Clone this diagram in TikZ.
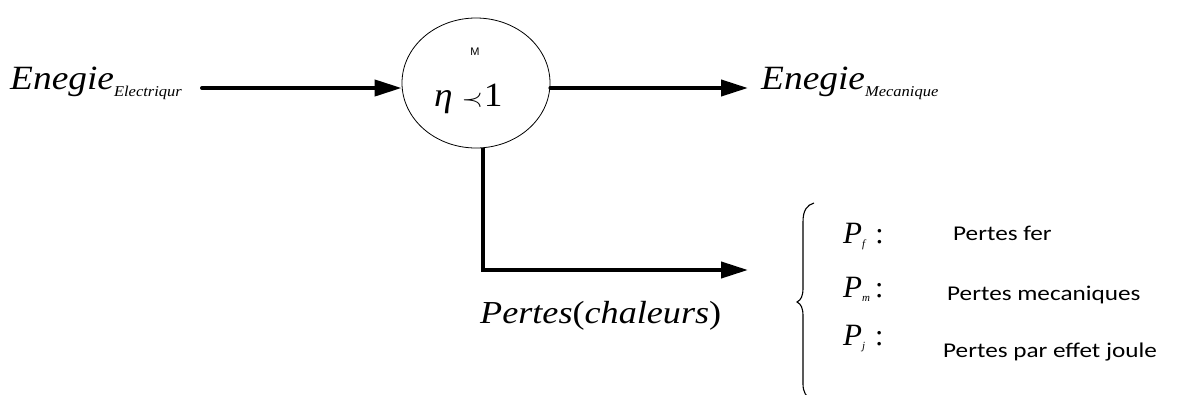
\documentclass[tikz,border=0pt]{standalone}
\usepackage{fontspec}
\setmainfont{Liberation Serif}
\newfontfamily\calib{Carlito}
\newfontfamily\helv{Liberation Sans}
\usetikzlibrary{arrows.meta,shapes.geometric}
\newcommand\bigit[2]{\scalebox{1.1}[1]{\fontsize{34}{36}\selectfont\itshape #1\raisebox{-7pt}{\fontsize{15}{16}\selectfont #2}}}
\newcommand\plab[2]{\fontsize{31}{32}\selectfont\textit{P}\raisebox{-4pt}{\fontsize{11}{12}\selectfont\textit{#1}}\hspace{#2}\fontsize{30}{32}\selectfont:}
\begin{document}
\begin{tikzpicture}[x=1pt,y=-1pt,
  flow/.style={line width=4pt, line cap=round, -{Triangle[length=27pt,width=16pt]}},
  lbl/.style={inner sep=0pt, anchor=base west},
  loss/.style={inner sep=0pt, anchor=base west, font=\calib\fontsize{21}{23}\selectfont}]
\useasboundingbox (0,0) rectangle (1177,394);
% motor
\node (m) [ellipse, draw, line width=0.8pt, minimum width=148pt, minimum height=130pt, inner sep=0pt] at (476,83) {};
\node (mlab) [inner sep=0pt, font=\helv\fontsize{11}{12}\selectfont] at (475,52) {M};
\node (eta) [lbl] at (434,106) {\scalebox{1.1}[1]{\fontsize{34}{36}\selectfont\textit{η}\hspace{8pt}$\prec$\hspace{1pt}1}};
% texts
\node (le) [lbl] at (10,89) {\bigit{Enegie}{Electriqur}};
\node (re) [lbl] at (761,89) {\bigit{Enegie}{Mecanique}};
\node (pc) [lbl] at (480,323) {\scalebox{1.13}[1]{\fontsize{32}{36}\selectfont\textit{Pertes}(\textit{chaleurs})}};
% arrows
\coordinate (a0) at (202,88);
\coordinate (a1) at (748,88);
\coordinate (a2) at (748,270);
\draw[flow] (a0) -- (a0 -| m.west);
\draw[flow] (a1 -| m.east) -- (a1);
\draw[flow, line cap=butt] ([xshift=7pt]m.south) |- (a2);
% brace
\draw[line width=1.1pt] (814,203) .. controls (807,205) and (803,210) .. (803,222) -- (803,288)
   .. controls (803,296) and (801,300) .. (797,302) .. controls (801,304) and (803,308) .. (803,316)
   -- (803,384) .. controls (803,392) and (806,397) .. (812,400);
% losses
\node (pf) [lbl] at (843,243) {\plab{f}{9pt}};
\node (pm) [lbl] at (843,297) {\plab{m}{5pt}};
\node (pj) [lbl] at (843,345) {\plab{j}{10pt}};
\node (tf) [loss] at (953,240) {\scalebox{1.2}[1]{Pertes fer}};
\node (tm) [loss] at (947,300) {\scalebox{1.2}[1]{Pertes mecaniques}};
\node (tj) [loss] at (943,357) {\scalebox{1.2}[1]{Pertes par effet joule}};
\end{tikzpicture}
\end{document}
